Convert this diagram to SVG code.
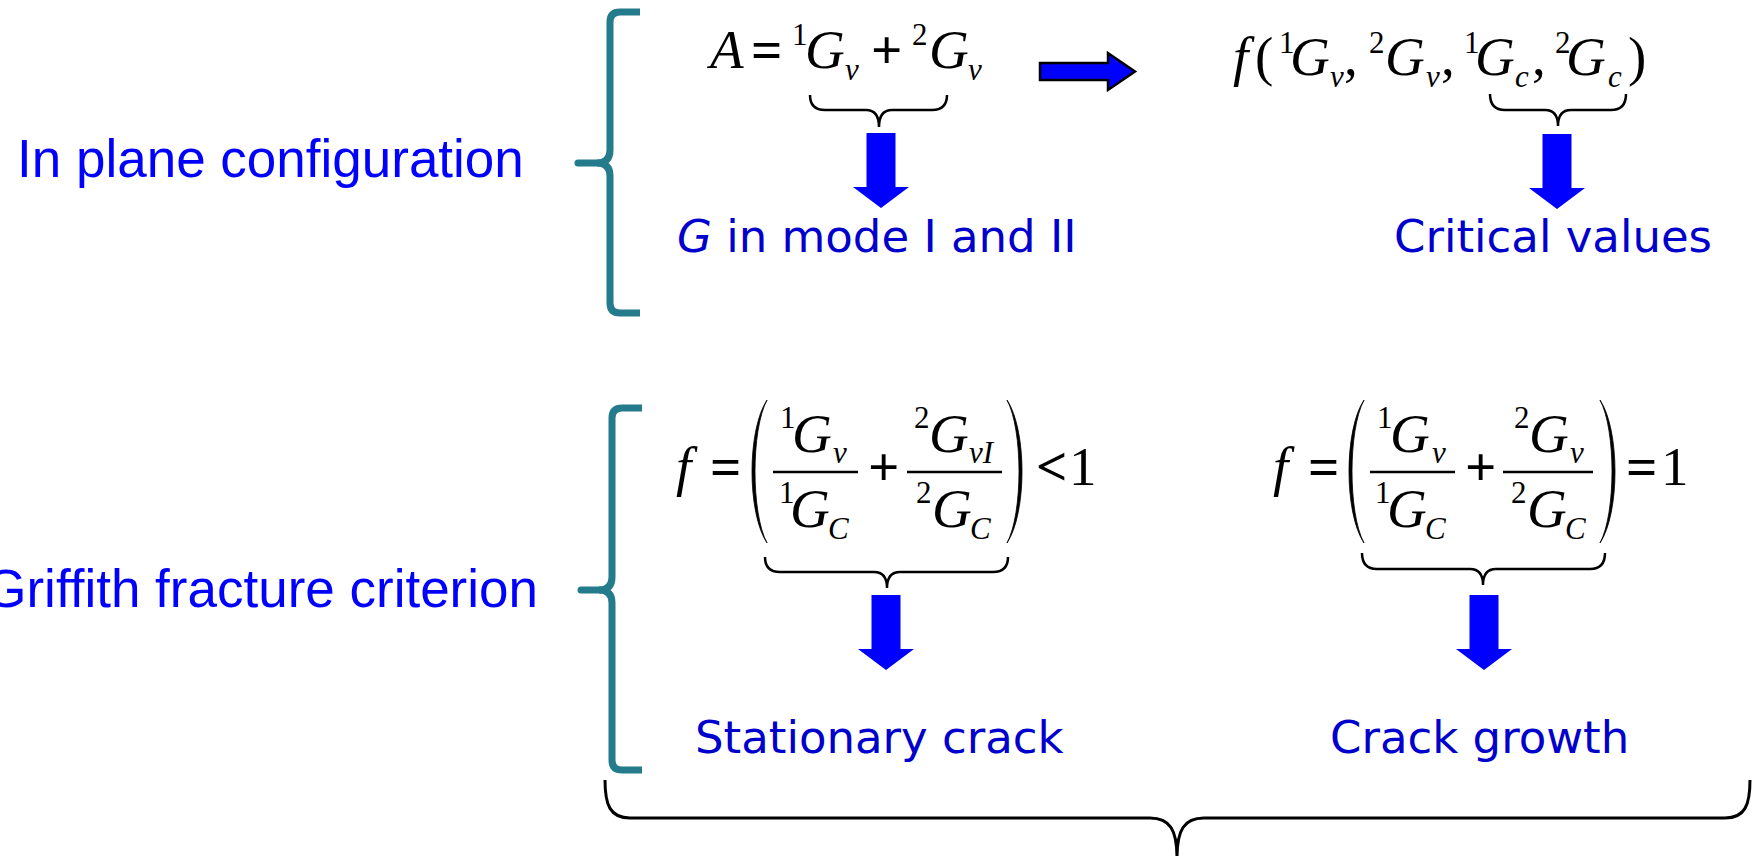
<svg xmlns="http://www.w3.org/2000/svg" width="1752" height="856" viewBox="0 0 1752 856">
<style>
.m{font-family:'Liberation Serif','Times New Roman',serif;font-size:55px;fill:#000}
.i{font-style:italic}
.s{font-size:31px}
.op{font-weight:bold}
.lbl{font-family:'DejaVu Sans',Verdana,sans-serif;font-size:45px;fill:#0000CC}
.side{font-family:'Liberation Sans',Arial,sans-serif;font-size:53px;fill:#0000FF}
.brk{fill:none;stroke:#247B8C;stroke-width:7}
.tip{fill:none;stroke:#247B8C;stroke-width:7;stroke-linecap:round}
.brace{fill:none;stroke:#000;stroke-width:2.5}
.bar{stroke:#000;stroke-width:2.5}
.paren{fill:#000;stroke:#000;stroke-width:0.8}
.arr{fill:#0000FF}
</style>
<defs>
<path id="down" d="M-14.5,0 H14.5 V54 H28 L0,75 L-28,54 H-14.5 Z"/>
</defs>
<rect width="1752" height="856" fill="#fff"/>

<g id="label-inplane"><text class="side" x="17" y="177">In plane configuration</text></g>
<g id="label-griffith"><text class="side" x="538" y="607" text-anchor="end">Griffith fracture criterion</text></g>

<g id="bracket-top">
<path class="brk" d="M640,12 H620 Q610,12 610,22 V150 Q610,163 597,163 Q610,163 610,176 V303 Q610,313 620,313 H640"/>
<path class="tip" d="M598,163 H578"/>
</g>
<g id="bracket-bottom">
<path class="brk" d="M642,408 H622 Q612,408 612,418 V577 Q612,590 599,590 Q612,590 612,603 V760 Q612,770 622,770 H642"/>
<path class="tip" d="M600,590 H581"/>
</g>

<g id="eq-A" class="m">
<text class="i" x="710" y="68">A</text>
<text class="op" x="751" y="68">=</text>
<text class="s" x="792" y="45">1</text>
<text class="i" x="805" y="68">G</text>
<text class="i s" x="845" y="80">v</text>
<text class="op" x="871" y="68">+</text>
<text class="s" x="912" y="45">2</text>
<text class="i" x="929" y="68">G</text>
<text class="i s" x="968" y="80">v</text>
</g>

<g id="eq-f" class="m">
<text class="i" x="1233" y="75">f</text>
<text x="1255" y="75">(</text>
<text class="s" x="1279" y="53">1</text>
<text class="i" x="1290" y="75">G</text>
<text class="i s" x="1330" y="87">v</text>
<text x="1344" y="75">,</text>
<text class="s" x="1369" y="53">2</text>
<text class="i" x="1385" y="75">G</text>
<text class="i s" x="1426" y="87">v</text>
<text x="1441" y="75">,</text>
<text class="s" x="1464" y="53">1</text>
<text class="i" x="1475" y="75">G</text>
<text class="i s" x="1515" y="87">c</text>
<text x="1532" y="75">,</text>
<text class="s" x="1555" y="53">2</text>
<text class="i" x="1566" y="75">G</text>
<text class="i s" x="1608" y="87">c</text>
<text x="1628" y="75">)</text>
</g>

<g id="eq-stationary" class="m">
<text class="i" x="676" y="485">f</text>
<text class="op" x="710" y="485">=</text>
<path class="paren" d="M767,400 C747,430 747,513 767,543 C751,513 751,430 767,400 Z"/>
<text class="s" x="780" y="428">1</text>
<text class="i" x="792" y="452">G</text>
<text class="i s" x="833" y="463">v</text>
<line class="bar" x1="773" y1="472" x2="858" y2="472"/>
<text class="s" x="779" y="503">1</text>
<text class="i" x="790" y="527">G</text>
<text class="i s" x="828" y="539">C</text>
<text class="op" x="868" y="485">+</text>
<text class="s" x="914" y="428">2</text>
<text class="i" x="929" y="452">G</text>
<text class="i s" x="969" y="463">vI</text>
<line class="bar" x1="907" y1="472" x2="1002" y2="472"/>
<text class="s" x="916" y="503">2</text>
<text class="i" x="932" y="527">G</text>
<text class="i s" x="970" y="539">C</text>
<path class="paren" d="M1007,400 C1027,430 1027,513 1007,543 C1023,513 1023,430 1007,400 Z"/>
<text class="op" x="1036" y="485">&lt;</text>
<text x="1069" y="485">1</text>
</g>

<g id="eq-growth" class="m">
<text class="i" x="1273" y="485">f</text>
<text class="op" x="1308" y="485">=</text>
<path class="paren" d="M1364,400 C1344,430 1344,513 1364,543 C1348,513 1348,430 1364,400 Z"/>
<text class="s" x="1377" y="428">1</text>
<text class="i" x="1390" y="452">G</text>
<text class="i s" x="1432" y="463">v</text>
<line class="bar" x1="1370" y1="472" x2="1455" y2="472"/>
<text class="s" x="1375" y="503">1</text>
<text class="i" x="1387" y="527">G</text>
<text class="i s" x="1425" y="539">C</text>
<text class="op" x="1465" y="485">+</text>
<text class="s" x="1514" y="428">2</text>
<text class="i" x="1529" y="452">G</text>
<text class="i s" x="1570" y="463">v</text>
<line class="bar" x1="1503" y1="472" x2="1593" y2="472"/>
<text class="s" x="1511" y="503">2</text>
<text class="i" x="1527" y="527">G</text>
<text class="i s" x="1565" y="539">C</text>
<path class="paren" d="M1600,400 C1620,430 1620,513 1600,543 C1616,513 1616,430 1600,400 Z"/>
<text class="op" x="1626" y="485">=</text>
<text x="1661" y="485">1</text>
</g>

<g id="label-gmode"><text class="lbl" x="677" y="252"><tspan font-style="italic">G</tspan> in mode I and II</text></g>
<g id="label-critical"><text class="lbl" x="1394" y="252">Critical values</text></g>
<g id="label-stationary"><text class="lbl" x="695" y="753">Stationary crack</text></g>
<g id="label-growth"><text class="lbl" x="1330" y="753">Crack growth</text></g>

<g id="connectors">
<path class="brace" d="M810,95 Q810,110 825,110 L866,110 Q879,110 879,127 Q879,110 892,110 L932,110 Q947,110 947,95"/>
<path class="brace" d="M1490,94 Q1490,110 1505,110 L1545,110 Q1558,110 1558,126 Q1558,110 1571,110 L1611,110 Q1626,110 1626,94"/>
<path class="brace" d="M765,557 Q765,572 780,572 L874,572 Q887,572 887,588 Q887,572 900,572 L993,572 Q1008,572 1008,557"/>
<path class="brace" d="M1362,553 Q1362,569 1377,569 L1470,569 Q1483,569 1483,585 Q1483,569 1496,569 L1590,569 Q1605,569 1605,553"/>
<path class="brace" style="stroke-width:3" d="M605,780 C605,805 610,818 630,818 L1150,818 C1170,818 1177,830 1177,858 C1177,830 1184,818 1204,818 L1725,818 C1745,818 1750,805 1750,780"/>
<use href="#down" class="arr" x="881" y="133"/>
<use href="#down" class="arr" x="1557" y="134"/>
<use href="#down" class="arr" x="886" y="595"/>
<use href="#down" class="arr" x="1484" y="595"/>
<path d="M1040,63 H1108 V53 L1135,71.5 L1108,90 V80 H1040 Z" fill="#0000FF" stroke="#000" stroke-width="2.5"/>
</g>
</svg>
